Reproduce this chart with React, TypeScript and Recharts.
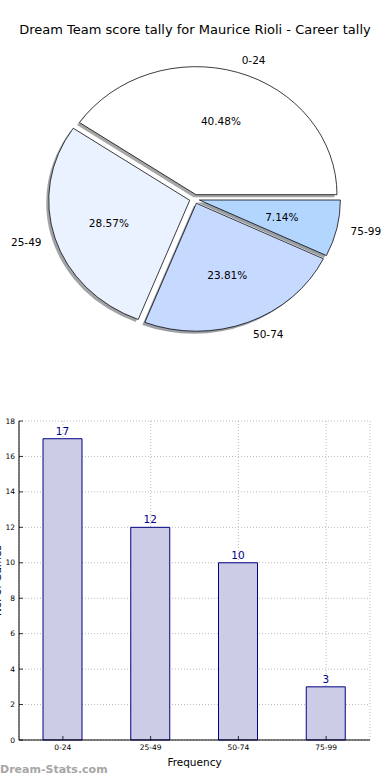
import React from 'react';
import { PieChart, Pie, Cell, BarChart, Bar, XAxis, YAxis, CartesianGrid, LabelList } from 'recharts';

const categories = ['0-24', '25-49', '50-74', '75-99'];
const counts = [17, 12, 10, 3];
const yTicks = [0, 2, 4, 6, 8, 10, 12, 14, 16, 18];
const sliceColors = ['#FFFFFF', '#EBF2FF', '#C6D9FF', '#B3D6FF'];
const shadowColors = ['#4d4d4d', '#46484d', '#3b414d', '#36404d'];

const pieData = categories.map((c, i) => ({ name: c, value: counts[i] }));
const barData = categories.map((c, i) => ({ cat: c, count: counts[i] }));

const FONT = 'DejaVu Sans, sans-serif';
const K = 128 / 141;
const CX = 194.5;
const CY = 199 / K;
const R = 141;
const EXPLODE = 5;
const SHX = -2.5;
const SHY = 2.5 / K;

const total = counts.reduce((a, b) => a + b, 0);
const midAngles = counts.map((v, i) => {
  const before = counts.slice(0, i).reduce((a, b) => a + b, 0);
  return ((before + v / 2) / total) * 360;
});
const centers = midAngles.map((m) => {
  const r = (m * Math.PI) / 180;
  return { x: CX + EXPLODE * Math.cos(r), y: CY - EXPLODE * Math.sin(r) };
});

const makeLabel = (i: number) => (props: any) => {
  if (props.index !== i) return null;
  const { cx, cy, midAngle, outerRadius, percent } = props;
  const rad = (midAngle * Math.PI) / 180;
  const cos = Math.cos(rad);
  const sin = Math.sin(rad);
  const inX = cx + 0.6 * outerRadius * cos;
  const inY = cy - 0.6 * outerRadius * sin;
  const outX = cx + 1.1 * outerRadius * cos;
  const outY = cy - 1.1 * outerRadius * sin;
  return (
    <g>
      <text
        transform={`translate(${inX},${inY}) scale(1,${1 / K})`}
        x={0}
        y={0}
        textAnchor="middle"
        dominantBaseline="central"
        fontSize={10.5}
        fontFamily={FONT}
        fill="#000"
      >
        {(percent * 100).toFixed(2)}%
      </text>
      <text
        transform={`translate(${outX},${outY}) scale(1,${1 / K})`}
        x={0}
        y={0}
        textAnchor={cos > 0 ? 'start' : 'end'}
        dominantBaseline="central"
        fontSize={10.5}
        fontFamily={FONT}
        fill="#000"
      >
        {categories[i]}
      </text>
    </g>
  );
};

const YTick = (props: any) => {
  const { x, y, payload } = props;
  const ax = x + 4;
  return (
    <g>
      <line x1={ax} x2={ax + 4} y1={y} y2={y} stroke="#000" strokeWidth={0.8} />
      <text x={x} y={y} textAnchor="end" dominantBaseline="central" fontSize={7.5} fontFamily={FONT} fill="#000">
        {payload.value}
      </text>
    </g>
  );
};

const YTickRight = (props: any) => {
  const { x, y } = props;
  return <line x1={x - 4} x2={x} y1={y} y2={y} stroke="#000" strokeWidth={0.8} />;
};

const XTick = (props: any) => {
  const { x, y, payload } = props;
  const ay = y - 5;
  return (
    <g>
      <line x1={x} x2={x} y1={ay} y2={ay - 4} stroke="#000" strokeWidth={0.8} />
      <text x={x} y={y} dy="0.71em" textAnchor="middle" fontSize={7.5} fontFamily={FONT} fill="#000">
        {payload.value}
      </text>
    </g>
  );
};

const XTickTop = (props: any) => {
  const { x, y } = props;
  return <line x1={x} x2={x} y1={y} y2={y + 4} stroke="#000" strokeWidth={0.8} />;
};

const YLabel = () => {
  const cy = 21 + (340 - 21) / 2;
  const x = 0.5;
  return (
    <text
      transform={`translate(${x},${cy}) rotate(-90)`}
      x={0}
      y={0}
      textAnchor="middle"
      fontSize={10.5}
      fontFamily={FONT}
      fill="#000"
    >
      No. of Games
    </text>
  );
};

export default function App() {
  return (
    <div style={{ position: 'absolute', left: 0, top: 0, width: 390, height: 780, background: '#fff', fontFamily: FONT, overflow: 'hidden' }}>
      <div
        style={{
          position: 'absolute',
          left: 0,
          top: 21,
          width: 390,
          textAlign: 'center',
          fontSize: 13,
          fontFamily: FONT,
          color: '#000',
          lineHeight: '18px',
        }}
      >
        Dream Team score tally for Maurice Rioli - Career tally
      </div>
      <div style={{ position: 'absolute', left: 0, top: 0, width: 390, height: 400, transform: `scaleY(${K})`, transformOrigin: '0 0' }}>
        <PieChart width={390} height={400} margin={{ top: 0, right: 0, bottom: 0, left: 0 }}>
          {centers.map((c, i) => (
            <Pie
              key={`sh${i}`}
              data={pieData}
              dataKey="value"
              nameKey="name"
              cx={c.x + SHX}
              cy={c.y + SHY}
              outerRadius={R}
              innerRadius={0}
              startAngle={0}
              endAngle={360}
              isAnimationActive={false}
              labelLine={false}
              label={false}
              stroke="none"
            >
              {pieData.map((d, j) => (
                <Cell key={j} fill={j === i ? shadowColors[i] : 'none'} fillOpacity={0.5} stroke="none" />
              ))}
            </Pie>
          ))}
          {centers.map((c, i) => (
            <Pie
              key={`sl${i}`}
              data={pieData}
              dataKey="value"
              nameKey="name"
              cx={c.x}
              cy={c.y}
              outerRadius={R}
              innerRadius={0}
              startAngle={0}
              endAngle={360}
              isAnimationActive={false}
              labelLine={false}
              label={makeLabel(i)}
            >
              {pieData.map((d, j) => (
                <Cell
                  key={j}
                  fill={j === i ? sliceColors[i] : 'none'}
                  stroke={j === i ? '#000' : 'none'}
                  strokeWidth={0.8}
                />
              ))}
            </Pie>
          ))}
        </PieChart>
      </div>
      <div style={{ position: 'absolute', left: 0, top: 400, width: 390, height: 380 }}>
        <BarChart width={390} height={380} data={barData} margin={{ top: 21, right: 20, bottom: 0, left: 0 }} barCategoryGap={0}>
          <CartesianGrid stroke="#a8a8a8" strokeDasharray="1 2" strokeWidth={0.8} />
          <XAxis
            dataKey="cat"
            height={40}
            tickLine={false}
            tickSize={0}
            tickMargin={5}
            axisLine={{ stroke: '#000', strokeWidth: 1 }}
            tick={<XTick />}
            interval={0}
            label={{ value: 'Frequency', position: 'insideBottom', offset: 14, fontSize: 10.5, fontFamily: FONT, fill: '#000' }}
          />
          <XAxis
            xAxisId="top"
            orientation="top"
            dataKey="cat"
            height={0}
            tickLine={false}
            tickSize={0}
            tickMargin={0}
            axisLine={{ stroke: '#000', strokeWidth: 1 }}
            tick={<XTickTop />}
            interval={0}
          />
          <YAxis
            type="number"
            domain={[0, 18]}
            ticks={yTicks}
            width={19}
            tickLine={false}
            tickSize={0}
            tickMargin={4}
            axisLine={{ stroke: '#000', strokeWidth: 1 }}
            tick={<YTick />}
            interval={0}
            label={<YLabel />}
          />
          <YAxis
            yAxisId="right"
            orientation="right"
            type="number"
            domain={[0, 18]}
            ticks={yTicks}
            width={0}
            tickLine={false}
            tickSize={0}
            tickMargin={0}
            axisLine={{ stroke: '#000', strokeWidth: 1 }}
            tick={<YTickRight />}
            interval={0}
          />
          <Bar dataKey="count" barSize={39} fill="#CCCCE6" stroke="#000080" strokeWidth={1} isAnimationActive={false}>
            <LabelList dataKey="count" position="top" offset={4} fill="#00008B" fontSize={10.5} fontFamily={FONT} />
          </Bar>
        </BarChart>
      </div>
      <div
        style={{
          position: 'absolute',
          left: 0,
          top: 763,
          fontSize: 11,
          fontWeight: 'bold',
          color: '#a6a6a6',
          fontFamily: FONT,
          lineHeight: '14px',
        }}
      >
        Dream-Stats.com
      </div>
    </div>
  );
}
